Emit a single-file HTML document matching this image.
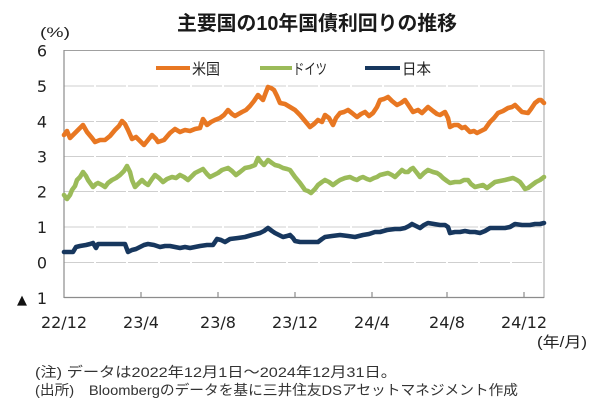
<!DOCTYPE html>
<html><head><meta charset="utf-8">
<style>
html,body{margin:0;padding:0;background:#fff;}
svg{display:block;}
</style></head>
<body>
<svg width="600" height="415" viewBox="0 0 600 415" xmlns="http://www.w3.org/2000/svg">
<rect width="600" height="415" fill="#fff"/>
<!-- Title -->
<text x="177" y="30" font-family="'Liberation Sans','Noto Sans CJK JP',sans-serif" font-weight="bold" font-size="20" fill="#1a1a1a" textLength="280" lengthAdjust="spacingAndGlyphs">主要国の10年国債利回りの推移</text>
<!-- (%) -->
<text x="40" y="37" font-family="'Liberation Sans','Noto Sans CJK JP',sans-serif" font-size="14" fill="#222" textLength="30" lengthAdjust="spacingAndGlyphs">(%)</text>

<!-- gridlines -->
<g stroke="#cfcfcf" stroke-width="1" stroke-dasharray="30,2">
<line x1="64" y1="86" x2="544" y2="86"/>
<line x1="64" y1="121.5" x2="544" y2="121.5"/>
<line x1="64" y1="156.5" x2="544" y2="156.5"/>
<line x1="64" y1="191.5" x2="544" y2="191.5"/>
<line x1="64" y1="227" x2="544" y2="227"/>
<line x1="64" y1="262.5" x2="544" y2="262.5"/>
</g>
<!-- plot border -->
<rect x="64" y="50.5" width="480" height="247" fill="none" stroke="#a0a0a0" stroke-width="1"/>
<line x1="64" y1="50" x2="64" y2="298" stroke="#8c8c8c" stroke-width="1.2"/>
<line x1="64" y1="297.5" x2="544" y2="297.5" stroke="#8c8c8c" stroke-width="1.2"/>
<!-- ticks -->
<g stroke="#8c8c8c" stroke-width="1.2">
<line x1="141" y1="292" x2="141" y2="298"/>
<line x1="218" y1="292" x2="218" y2="298"/>
<line x1="295" y1="292" x2="295" y2="298"/>
<line x1="372" y1="292" x2="372" y2="298"/>
<line x1="447" y1="292" x2="447" y2="298"/>
<line x1="524" y1="292" x2="524" y2="298"/>
</g>

<!-- y labels -->
<g font-family="'DejaVu Sans',sans-serif" font-size="16" fill="#222" text-anchor="middle">
<text x="42" y="56.5">6</text>
<text x="42" y="92">5</text>
<text x="42" y="127.5">4</text>
<text x="42" y="162.5">3</text>
<text x="42" y="197.5">2</text>
<text x="42" y="233">1</text>
<text x="42" y="268.5">0</text>
<text x="42" y="304">1</text>
</g>
<text x="22" y="304" font-family="'DejaVu Sans',sans-serif" font-size="13" fill="#111" text-anchor="middle">▲</text>

<!-- x labels -->
<g font-family="'DejaVu Sans',sans-serif" font-size="16" fill="#222" text-anchor="middle">
<text x="64" y="328">22/12</text>
<text x="141" y="328">23/4</text>
<text x="218" y="328">23/8</text>
<text x="295" y="328">23/12</text>
<text x="372" y="328">24/4</text>
<text x="447" y="328">24/8</text>
<text x="524" y="328">24/12</text>
</g>
<text x="537" y="347" font-family="'Liberation Sans','Noto Sans CJK JP',sans-serif" font-size="15" fill="#222" textLength="50" lengthAdjust="spacingAndGlyphs">(年/月)</text>

<!-- legend -->
<line x1="156" y1="68" x2="190" y2="68" stroke="#E87722" stroke-width="4"/>
<text x="192" y="74" font-family="'Liberation Sans','Noto Sans CJK JP',sans-serif" font-size="15" fill="#222" textLength="28" lengthAdjust="spacingAndGlyphs">米国</text>
<line x1="260" y1="68" x2="292" y2="68" stroke="#9BBB59" stroke-width="4"/>
<text x="293" y="74" font-family="'Liberation Sans','Noto Sans CJK JP',sans-serif" font-size="15" fill="#222" textLength="34" lengthAdjust="spacingAndGlyphs">ドイツ</text>
<line x1="365" y1="68" x2="400" y2="68" stroke="#17375E" stroke-width="4"/>
<text x="402" y="74" font-family="'Liberation Sans','Noto Sans CJK JP',sans-serif" font-size="15" fill="#222" textLength="29" lengthAdjust="spacingAndGlyphs">日本</text>

<!-- series -->
<g fill="none" stroke-width="4.6" stroke-linejoin="round" stroke-linecap="round">
<polyline stroke="#E87722" points="64,135 67,131 70,138 75,133 78,130 83,125 87,132 92,138 95,142 100,140 105,140 110,136 115,130 119,126 122,121 125,124 128,130 132,139 136,137 140,141 144,145 148,140 152,135 156,139 158,142 164,140 170,133 175,129 180,132 185,130 190,131 195,129 200,128 203,119 207,125 211,122 215,120 220,118 224,115 228,110 232,114 235,116 242,112 246,110 250,106 254,101 258,95 263,100 266,92 268,87 271,88 274,90 277,96 280,103 285,104 290,107 295,110 300,115 305,121 310,127 314,124 318,120 322,122 325,115 329,118 333,125 336,118 340,113 344,112 348,110 352,113 357,117 361,114 365,112 369,116 373,113 377,107 380,100 384,99 388,97 392,101 397,105 401,103 405,100 409,106 413,112 418,110 422,113 426,109 428,107 433,111 437,114 440,115 445,112 448,118 450,127 454,125 458,125 462,128 465,127 470,132 474,131 477,133 481,131 485,129 490,122 494,118 498,113 503,111 508,108 512,107 515,105 519,109 522,112 528,113 531,109 535,103 539,100 541,100 544,103"/>
<polyline stroke="#9BBB59" points="64,195 67,199 70,195 72,190 75,186 77,180 80,177 83,172 86,176 88,180 93,187 96,184 98,183 102,185 105,187 108,183 112,180 116,178 120,175 124,171 127,166 130,172 132,180 135,187 138,184 142,180 145,183 148,185 152,179 155,175 159,178 163,182 167,179 172,177 176,178 180,175 184,177 188,180 192,176 195,173 199,171 203,169 207,174 210,177 214,175 218,173 222,170 228,168 232,171 236,175 240,172 245,168 250,167 255,165 258,158 261,162 264,165 268,160 272,163 275,165 279,166 283,168 287,169 290,170 295,177 300,183 305,190 308,191 311,193 315,189 318,185 322,182 325,180 329,182 333,185 337,182 340,180 345,178 350,177 354,179 357,180 360,178 363,177 367,179 370,180 374,178 377,177 380,175 384,174 388,173 392,175 395,177 399,173 402,170 405,172 408,172 411,169 413,168 417,173 420,177 424,173 428,170 433,172 437,173 440,175 443,178 447,181 450,183 455,182 460,182 464,180 468,180 471,184 475,187 479,186 483,185 487,188 491,185 495,182 500,181 505,180 509,179 513,178 517,180 520,182 523,186 525,189 528,188 532,185 536,182 540,180 544,177"/>
<polyline stroke="#17375E" points="64,252 73,252 76,247 80,246 86,245 90,244 93,243 96,248 98,244 125,244 128,252 132,250 136,249 140,247 144,245 148,244 154,245 160,247 165,246 170,246 175,247 180,248 185,247 190,248 195,247 200,246 207,245 213,245 217,239 221,240 225,242 230,239 238,238 245,237 252,235 260,233 264,231 268,228 272,231 275,233 279,235 283,237 287,236 290,235 293,238 295,241 300,242 305,242 312,242 318,242 322,239 325,237 332,236 340,235 348,236 355,237 359,236 363,235 369,234 375,232 380,232 387,230 395,229 400,229 405,228 409,226 412,224 416,226 420,228 424,225 428,223 434,224 440,225 445,225 448,227 450,233 455,232 460,232 465,231 470,232 475,232 480,233 485,231 490,228 497,228 505,228 510,227 515,224 522,225 530,225 535,224 540,224 544,223"/>
</g>

<!-- footnotes -->
<text x="35" y="377" font-family="'Liberation Sans','Noto Sans CJK JP',sans-serif" font-size="14" fill="#333" textLength="362" lengthAdjust="spacingAndGlyphs">(注) データは2022年12月1日～2024年12月31日。</text>
<text x="35" y="395" font-family="'Liberation Sans','Noto Sans CJK JP',sans-serif" font-size="14" fill="#333" textLength="483" lengthAdjust="spacingAndGlyphs">(出所)　Bloombergのデータを基に三井住友DSアセットマネジメント作成</text>
</svg>
</body></html>
